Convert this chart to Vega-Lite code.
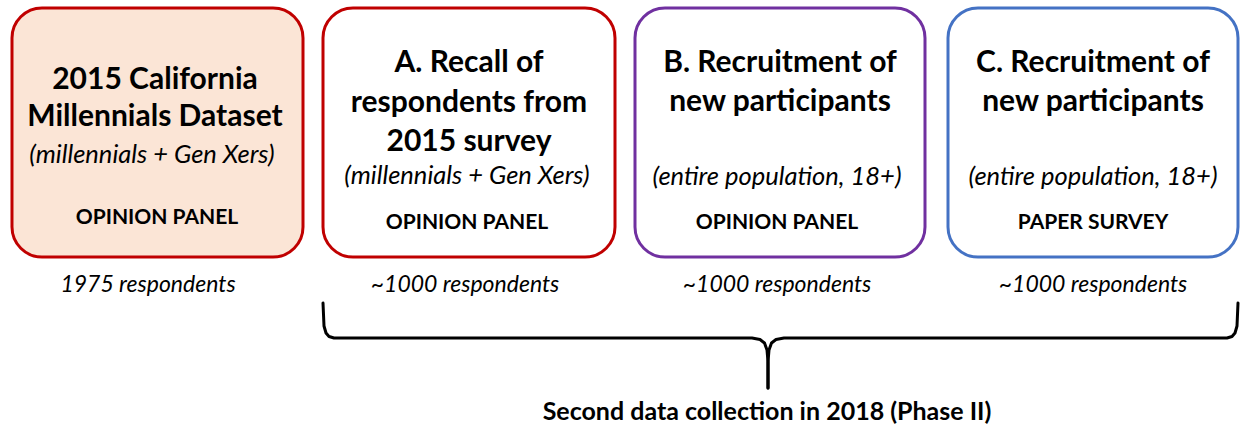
{
  "$schema": "https://vega.github.io/schema/vega-lite/v6.json",
  "width": 1241,
  "height": 431,
  "autosize": {"type": "fit", "contains": "padding"},
  "padding": 0,
  "background": "#ffffff",
  "config": {"view": {"stroke": null}},
  "datasets": {
    "boxes": [
      {"id": "base", "x0": 12, "x1": 303, "y0": 8, "y1": 257},
      {"id": "A", "x0": 323, "x1": 615, "y0": 8, "y1": 257},
      {"id": "B", "x0": 635, "x1": 925, "y0": 8, "y1": 257},
      {"id": "C", "x0": 948, "x1": 1238, "y0": 8, "y1": 257}
    ],
    "texts": [
      {"kind": "title", "x": 155, "y": 80, "t": "2015 California"},
      {"kind": "title", "x": 155, "y": 117, "t": "Millennials Dataset"},
      {"kind": "sub", "x": 152, "y": 155, "t": "(millennials + Gen Xers)"},
      {"kind": "label", "x": 157, "y": 218, "t": "OPINION PANEL"},
      {"kind": "title", "x": 469, "y": 63, "t": "A. Recall of"},
      {"kind": "title", "x": 469, "y": 103, "t": "respondents from"},
      {"kind": "title", "x": 469, "y": 142, "t": "2015 survey"},
      {"kind": "sub", "x": 467, "y": 176, "t": "(millennials + Gen Xers)"},
      {"kind": "label", "x": 467, "y": 223, "t": "OPINION PANEL"},
      {"kind": "title", "x": 780, "y": 63, "t": "B. Recruitment of"},
      {"kind": "title", "x": 780, "y": 102, "t": "new participants"},
      {"kind": "sub", "x": 777, "y": 177, "t": "(entire population, 18+)"},
      {"kind": "label", "x": 777, "y": 223, "t": "OPINION PANEL"},
      {"kind": "title", "x": 1093, "y": 63, "t": "C. Recruitment of"},
      {"kind": "title", "x": 1093, "y": 102, "t": "new participants"},
      {"kind": "sub", "x": 1093, "y": 177, "t": "(entire population, 18+)"},
      {"kind": "label", "x": 1093, "y": 223, "t": "PAPER SURVEY"},
      {"kind": "resp", "x": 148, "y": 285, "t": "1975 respondents"},
      {"kind": "resp", "x": 465, "y": 285, "t": "~1000 respondents"},
      {"kind": "resp", "x": 777, "y": 285, "t": "~1000 respondents"},
      {"kind": "resp", "x": 1093, "y": 285, "t": "~1000 respondents"},
      {"kind": "caption", "x": 767, "y": 412, "t": "Second data collection in 2018 (Phase II)"}
    ],
    "brace": [
      {"side": "L", "ord": 1, "x": 323, "y": 303},
      {"side": "L", "ord": 2, "x": 324, "y": 326},
      {"side": "L", "ord": 3, "x": 326, "y": 333},
      {"side": "L", "ord": 4, "x": 329, "y": 336.5},
      {"side": "L", "ord": 5, "x": 334, "y": 338},
      {"side": "L", "ord": 6, "x": 752, "y": 338},
      {"side": "L", "ord": 7, "x": 760, "y": 339.5},
      {"side": "L", "ord": 8, "x": 764.5, "y": 343},
      {"side": "L", "ord": 9, "x": 767, "y": 350},
      {"side": "L", "ord": 10, "x": 768, "y": 362},
      {"side": "L", "ord": 11, "x": 768, "y": 388},
      {"side": "R", "ord": 1, "x": 1238, "y": 303},
      {"side": "R", "ord": 2, "x": 1237, "y": 326},
      {"side": "R", "ord": 3, "x": 1235, "y": 333},
      {"side": "R", "ord": 4, "x": 1232, "y": 336.5},
      {"side": "R", "ord": 5, "x": 1227, "y": 338},
      {"side": "R", "ord": 6, "x": 784, "y": 338},
      {"side": "R", "ord": 7, "x": 776, "y": 339.5},
      {"side": "R", "ord": 8, "x": 771.5, "y": 343},
      {"side": "R", "ord": 9, "x": 769, "y": 350},
      {"side": "R", "ord": 10, "x": 768, "y": 362},
      {"side": "R", "ord": 11, "x": 768, "y": 388}
    ]
  },
  "layer": [
    {
      "data": {"name": "boxes"},
      "mark": {"type": "rect", "cornerRadius": 30, "strokeWidth": 3},
      "encoding": {
        "x": {"field": "x0", "type": "quantitative", "scale": {"domain": [0, 1241], "nice": false, "zero": false}, "axis": null},
        "x2": {"field": "x1"},
        "y": {"field": "y0", "type": "quantitative", "scale": {"domain": [0, 431], "nice": false, "zero": false, "reverse": true}, "axis": null},
        "y2": {"field": "y1"},
        "fill": {"field": "id", "type": "nominal", "legend": null, "scale": {"domain": ["base", "A", "B", "C"], "range": ["#fbe5d6", "#ffffff", "#ffffff", "#ffffff"]}},
        "stroke": {"field": "id", "type": "nominal", "legend": null, "scale": {"domain": ["base", "A", "B", "C"], "range": ["#c00000", "#c00000", "#7030a0", "#4472c4"]}}
      }
    },
    {
      "data": {"name": "brace"},
      "mark": {"type": "line", "color": "#000000", "strokeWidth": 3, "strokeCap": "round", "strokeJoin": "round"},
      "encoding": {
        "x": {"field": "x", "type": "quantitative"},
        "y": {"field": "y", "type": "quantitative"},
        "detail": {"field": "side"},
        "order": {"field": "ord", "type": "quantitative"}
      }
    },
    {
      "data": {"name": "texts"},
      "transform": [{"filter": "datum.kind === 'title'"}],
      "mark": {"type": "text", "font": "Lato", "fontWeight": "bold", "fontSize": 30, "baseline": "middle", "align": "center", "color": "#000000"},
      "encoding": {
        "x": {"field": "x", "type": "quantitative"},
        "y": {"field": "y", "type": "quantitative"},
        "text": {"field": "t"}
      }
    },
    {
      "data": {"name": "texts"},
      "transform": [{"filter": "datum.kind === 'sub'"}],
      "mark": {"type": "text", "font": "Lato", "fontStyle": "italic", "fontSize": 25.5, "baseline": "middle", "align": "center", "color": "#000000"},
      "encoding": {
        "x": {"field": "x", "type": "quantitative"},
        "y": {"field": "y", "type": "quantitative"},
        "text": {"field": "t"}
      }
    },
    {
      "data": {"name": "texts"},
      "transform": [{"filter": "datum.kind === 'resp'"}],
      "mark": {"type": "text", "font": "Lato", "fontStyle": "italic", "fontSize": 23, "baseline": "middle", "align": "center", "color": "#000000"},
      "encoding": {
        "x": {"field": "x", "type": "quantitative"},
        "y": {"field": "y", "type": "quantitative"},
        "text": {"field": "t"}
      }
    },
    {
      "data": {"name": "texts"},
      "transform": [{"filter": "datum.kind === 'label'"}],
      "mark": {"type": "text", "font": "Lato", "fontWeight": "bold", "fontSize": 21, "baseline": "middle", "align": "center", "color": "#000000"},
      "encoding": {
        "x": {"field": "x", "type": "quantitative"},
        "y": {"field": "y", "type": "quantitative"},
        "text": {"field": "t"}
      }
    },
    {
      "data": {"name": "texts"},
      "transform": [{"filter": "datum.kind === 'caption'"}],
      "mark": {"type": "text", "font": "Lato", "fontWeight": "bold", "fontSize": 25, "baseline": "middle", "align": "center", "color": "#000000"},
      "encoding": {
        "x": {"field": "x", "type": "quantitative"},
        "y": {"field": "y", "type": "quantitative"},
        "text": {"field": "t"}
      }
    }
  ]
}
